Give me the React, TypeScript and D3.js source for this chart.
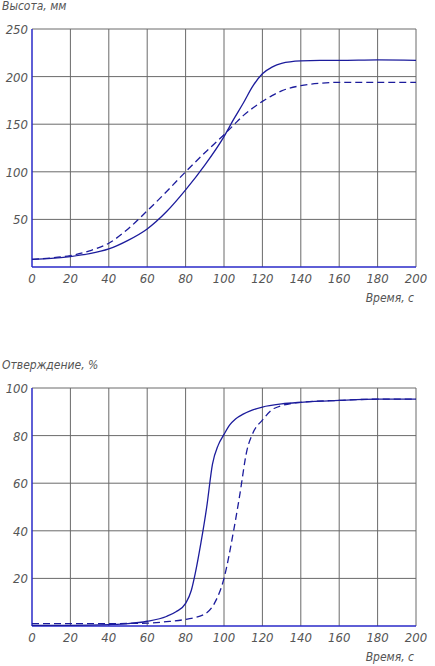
import React from "react";
import * as d3 from "d3";

// time axis, shared by both plots
const timeTicks = [0, 20, 40, 60, 80, 100, 120, 140, 160, 180, 200];

// upper plot: height, mm
const heightTicks = [50, 100, 150, 200, 250];
const heightTime = [0, 10, 20, 30, 40, 50, 60, 70, 80, 90, 100, 105, 110, 115, 120, 125, 130, 140, 150, 160, 180, 200];
const heightSolid = [8, 9, 11, 14, 19, 28, 40, 58, 81, 107, 137, 155, 172, 190, 203, 210, 214, 216.5, 217, 217, 217.5, 217];
const heightDashed = [8, 9.5, 12, 17, 25, 40, 59, 79, 100, 120, 139, 149, 159, 167, 174, 180, 185, 190.5, 193, 194, 194, 194];

// lower plot: curing, %
const cureTicks = [20, 40, 60, 80, 100];
const cureSolidTime = [0, 20, 40, 50, 60, 70, 75, 80, 83, 85, 88, 91, 94, 97, 100, 103, 106, 110, 115, 120, 130, 140, 160, 180, 200];
const cureSolid = [0.3, 0.3, 0.6, 1, 2, 4, 6, 9.5, 15, 22, 35, 50, 68, 76, 80.5, 84.5, 87, 89, 90.8, 92, 93.3, 94, 94.8, 95.3, 95.3];
const cureDashedTime = [0, 20, 40, 60, 70, 80, 90, 95, 100, 105, 108, 112, 115, 120, 126, 140, 160, 180, 200];
const cureDashed = [1, 1, 1, 1.2, 1.8, 2.8, 5, 9.5, 20, 40, 54, 74, 81, 86.5, 91.4, 94, 94.8, 95.3, 95.3];

const lineColor = "#1c1c9c";
const axisColor = "#2a2ac8";
const gridColor = "#6a6a6a";
const textColor = "#555";
const font = "'Liberation Sans Narrow', 'DejaVu Sans Condensed', sans-serif";

const left = 32;
const right = 416;

interface IPlot {
  top: number;
  bottom: number;
  yMax: number;
  yTicks: number[];
  title: string;
  series: { t: number[]; v: number[]; dashed: boolean }[];
}

const Plot = (props: IPlot) => {
  const x = d3.scaleLinear().domain([0, 200]).range([left, right]);
  const y = d3.scaleLinear().domain([0, props.yMax]).range([props.bottom, props.top]);
  const line = d3
    .line<[number, number]>()
    .x((d) => x(d[0]))
    .y((d) => y(d[1]))
    .curve(d3.curveMonotoneX);

  return (
    <g>
      {timeTicks.slice(1).map((t) => (
        <line key={"gx" + t} x1={x(t)} x2={x(t)} y1={props.top} y2={props.bottom} stroke={gridColor} strokeWidth={1} />
      ))}
      {props.yTicks.map((v) => (
        <line key={"gy" + v} x1={left} x2={right} y1={y(v)} y2={y(v)} stroke={gridColor} strokeWidth={1} />
      ))}
      <line x1={left} x2={left} y1={props.top} y2={props.bottom} stroke={axisColor} strokeWidth={1.5} />
      <line x1={left} x2={right} y1={props.bottom} y2={props.bottom} stroke={axisColor} strokeWidth={1.5} />
      {props.series.map((s, i) => (
        <path
          key={i}
          d={line(s.t.map((t, j) => [t, s.v[j]] as [number, number])) || ""}
          fill="none"
          stroke={lineColor}
          strokeWidth={1.3}
          strokeDasharray={s.dashed ? "7,4" : undefined}
        />
      ))}
      {props.yTicks.map((v) => (
        <text key={"ty" + v} x={left - 4} y={y(v) + 5} textAnchor="end" fontSize={13} fontStyle="italic" fill={textColor} fontFamily={font}>
          {v}
        </text>
      ))}
      {timeTicks.map((t) => (
        <text key={"tx" + t} x={x(t)} y={props.bottom + 16} textAnchor="middle" fontSize={13} fontStyle="italic" fill={textColor} fontFamily={font}>
          {t}
        </text>
      ))}
      <text x={2} y={props.top - 19} fontSize={12} fontStyle="italic" fill={textColor} fontFamily={font}>
        {props.title}
      </text>
      <text x={right - 2} y={props.bottom + 35} textAnchor="end" fontSize={12} fontStyle="italic" fill={textColor} fontFamily={font}>
        Время, с
      </text>
    </g>
  );
};

const App = () => {
  return (
    <svg width={435} height={666} style={{ position: "absolute", left: 0, top: 0, background: "#fff" }}>
      <Plot
        top={29}
        bottom={267}
        yMax={250}
        yTicks={heightTicks}
        title="Высота, мм"
        series={[
          { t: heightTime, v: heightSolid, dashed: false },
          { t: heightTime, v: heightDashed, dashed: true },
        ]}
      />
      <Plot
        top={388}
        bottom={626}
        yMax={100}
        yTicks={cureTicks}
        title="Отверждение, %"
        series={[
          { t: cureSolidTime, v: cureSolid, dashed: false },
          { t: cureDashedTime, v: cureDashed, dashed: true },
        ]}
      />
    </svg>
  );
};

export default App;
